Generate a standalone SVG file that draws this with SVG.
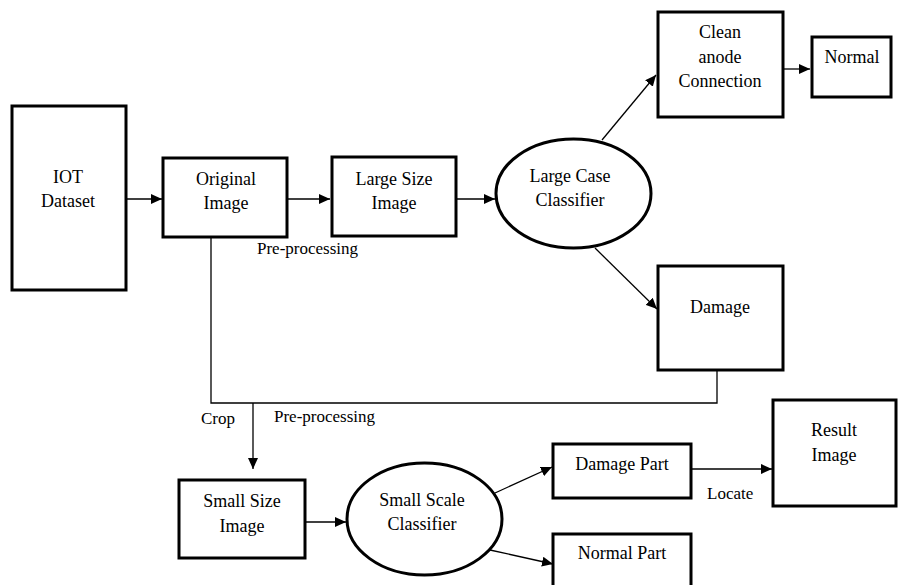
<svg xmlns="http://www.w3.org/2000/svg" width="898" height="585" viewBox="0 0 898 585">
<style>
  .box{fill:#fff;stroke:#000;stroke-width:3}
  .ell{fill:#fff;stroke:#000;stroke-width:3}
  .t{font-size:18px;fill:#000;text-anchor:middle}
  .lbl{font-size:17px;fill:#000}
  .c{fill:none;stroke:#000;stroke-width:1.3}
  .a{marker-end:url(#ah)}
</style>
<defs>
  <marker id="ah" markerUnits="userSpaceOnUse" markerWidth="12" markerHeight="10" refX="11" refY="5" orient="auto">
    <path d="M0,0 L11,5 L0,10 Z" fill="#000"/>
  </marker>
</defs>
<g font-family="Liberation Serif, DejaVu Serif, Times New Roman, serif">
<g id="connectors">
  <line class="c a" x1="126" y1="199" x2="162" y2="199"/>
  <line class="c a" x1="287" y1="199" x2="330" y2="199"/>
  <line class="c a" x1="456" y1="199" x2="495" y2="199"/>
  <line class="c a" x1="602" y1="140" x2="656" y2="75"/>
  <line class="c a" x1="595" y1="248" x2="657" y2="309"/>
  <line class="c a" x1="783" y1="69" x2="810" y2="69"/>
  <polyline class="c" points="717,370 717,403 211,403 211,237"/>
  <line class="c a" x1="253" y1="403" x2="253" y2="469"/>
  <line class="c a" x1="305" y1="522" x2="346" y2="522"/>
  <line class="c a" x1="495" y1="493" x2="552" y2="467"/>
  <line class="c a" x1="490" y1="550" x2="553" y2="564"/>
  <line class="c a" x1="691" y1="469" x2="772" y2="469"/>
  <text class="lbl" x="257" y="254">Pre-processing</text>
  <text class="lbl" x="201" y="424">Crop</text>
  <text class="lbl" x="274" y="422">Pre-processing</text>
  <text class="lbl" x="707" y="499">Locate</text>
</g>

<g id="iot-dataset">
  <rect class="box" x="12" y="106" width="114" height="184"/>
  <text class="t" x="68" y="183">IOT</text>
  <text class="t" x="68" y="207">Dataset</text>
</g>

<g id="original-image">
  <rect class="box" x="163" y="158" width="124" height="79"/>
  <text class="t" x="226" y="185">Original</text>
  <text class="t" x="226" y="209">Image</text>
</g>

<g id="large-size-image">
  <rect class="box" x="332" y="157" width="124" height="79"/>
  <text class="t" x="394" y="185">Large Size</text>
  <text class="t" x="394" y="209">Image</text>
</g>

<g id="large-case-classifier">
  <ellipse class="ell" cx="573.5" cy="193.5" rx="77.5" ry="54.5"/>
  <text class="t" x="570" y="182">Large Case</text>
  <text class="t" x="570" y="206">Classifier</text>
</g>

<g id="clean-anode-connection">
  <rect class="box" x="658" y="12" width="125" height="105"/>
  <text class="t" x="720" y="38">Clean</text>
  <text class="t" x="720" y="63">anode</text>
  <text class="t" x="720" y="87">Connection</text>
</g>

<g id="normal">
  <rect class="box" x="812" y="37" width="79" height="60"/>
  <text class="t" x="852" y="63">Normal</text>
</g>

<g id="damage">
  <rect class="box" x="658" y="266" width="125" height="104"/>
  <text class="t" x="720" y="313">Damage</text>
</g>

<g id="small-size-image">
  <rect class="box" x="179" y="480" width="126" height="78"/>
  <text class="t" x="242" y="507">Small Size</text>
  <text class="t" x="242" y="532">Image</text>
</g>

<g id="small-scale-classifier">
  <ellipse class="ell" cx="424.5" cy="519" rx="77.5" ry="56"/>
  <text class="t" x="422" y="506">Small Scale</text>
  <text class="t" x="422" y="530">Classifier</text>
</g>

<g id="damage-part">
  <rect class="box" x="553" y="444" width="138" height="54"/>
  <text class="t" x="622" y="470">Damage Part</text>
</g>

<g id="normal-part">
  <rect class="box" x="553" y="534" width="138" height="60"/>
  <text class="t" x="622" y="559">Normal Part</text>
</g>

<g id="result-image">
  <rect class="box" x="773" y="400" width="123" height="106"/>
  <text class="t" x="834" y="436">Result</text>
  <text class="t" x="834" y="461">Image</text>
</g>
</g>
</svg>
